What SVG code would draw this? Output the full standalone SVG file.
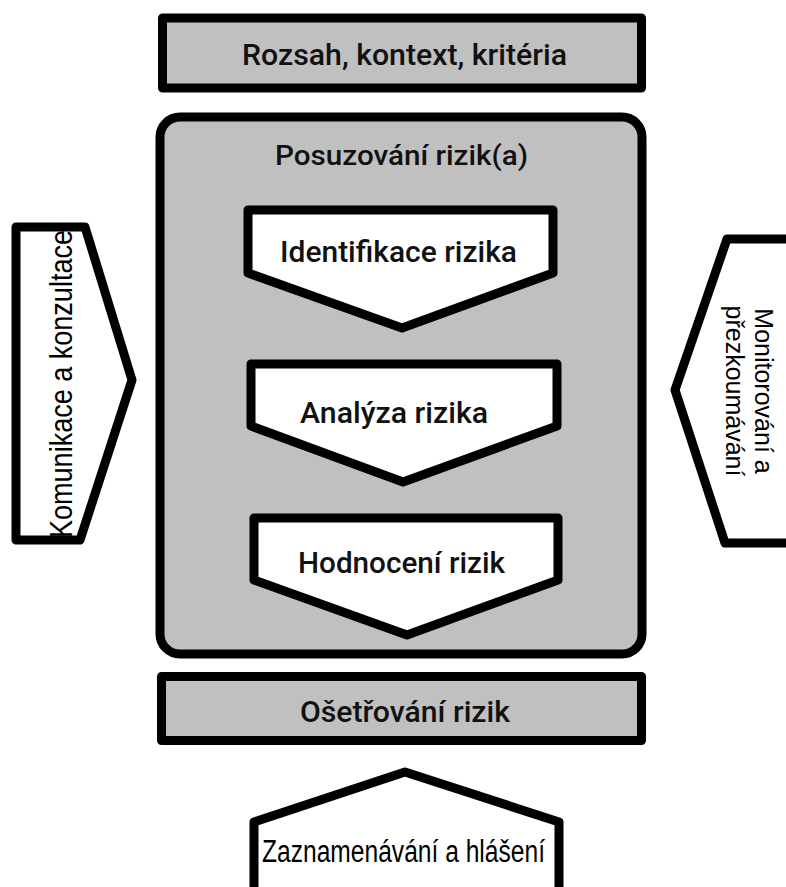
<svg xmlns="http://www.w3.org/2000/svg" width="786" height="887" viewBox="0 0 786 887">
<style>
.box{fill:#c0c0c0;stroke:#000;stroke-width:9;stroke-linejoin:round}
.wh{fill:#fff;stroke:#000;stroke-width:9;stroke-linejoin:round}
.t1{font-family:Roboto,"Noto Sans",sans-serif;font-weight:500;fill:#111;text-anchor:middle}
.t2{font-family:"Liberation Sans",Arial,sans-serif;fill:#000;text-anchor:middle}
</style>
<rect width="786" height="887" fill="#fff"/>
<g id="scope">
<rect class="box" x="162.5" y="18" width="479" height="70"/>
<text class="t1" x="404.5" y="65" font-size="30" textLength="325" lengthAdjust="spacingAndGlyphs">Rozsah, kontext, kritéria</text>
</g>
<g id="assessment">
<rect class="box" x="160" y="117" width="482" height="537" rx="20"/>
<text class="t1" x="401.5" y="165" font-size="28" textLength="253" lengthAdjust="spacingAndGlyphs">Posuzování rizik(a)</text>
</g>
<g id="identification">
<polygon class="wh" points="248,210 553,210 553,273 402,328 248,273"/>
<text class="t1" x="398.5" y="262" font-size="30" textLength="237" lengthAdjust="spacingAndGlyphs">Identifikace rizika</text>
</g>
<g id="analysis">
<polygon class="wh" points="251,364 557,364 557,426 403,482 251,426"/>
<text class="t1" x="394" y="423" font-size="29" textLength="188" lengthAdjust="spacingAndGlyphs">Analýza rizika</text>
</g>
<g id="evaluation">
<polygon class="wh" points="254,518 558,518 558,580 407,635 254,580"/>
<text class="t1" x="401.5" y="573" font-size="30" textLength="207" lengthAdjust="spacingAndGlyphs">Hodnocení rizik</text>
</g>
<g id="treatment">
<rect class="box" x="161.5" y="676.5" width="480" height="64"/>
<text class="t1" x="405" y="722" font-size="30" textLength="210" lengthAdjust="spacingAndGlyphs">Ošetřování rizik</text>
</g>
<g id="communication">
<polygon class="wh" points="16,227 85,227 132,380 80,540 16,540"/>
<text class="t2" transform="translate(72,384) rotate(-90)" x="0" y="0" font-size="31" textLength="308" lengthAdjust="spacingAndGlyphs">Komunikace a konzultace</text>
</g>
<g id="monitoring">
<polygon class="wh" points="800,239 727,239 675,390 725,543 800,543"/>
<text class="t2" transform="translate(755,391) rotate(90)" font-size="25"><tspan x="0" y="0">Monitorování a</tspan><tspan x="0" y="29">přezkoumávání</tspan></text>
</g>
<g id="recording">
<polygon class="wh" points="254,900 254,822 405,772 559,822 559,900"/>
<text class="t2" x="403.5" y="862" font-size="31" textLength="283" lengthAdjust="spacingAndGlyphs">Zaznamenávání a hlášení</text>
</g>
<g id="connectors"></g>
</svg>
